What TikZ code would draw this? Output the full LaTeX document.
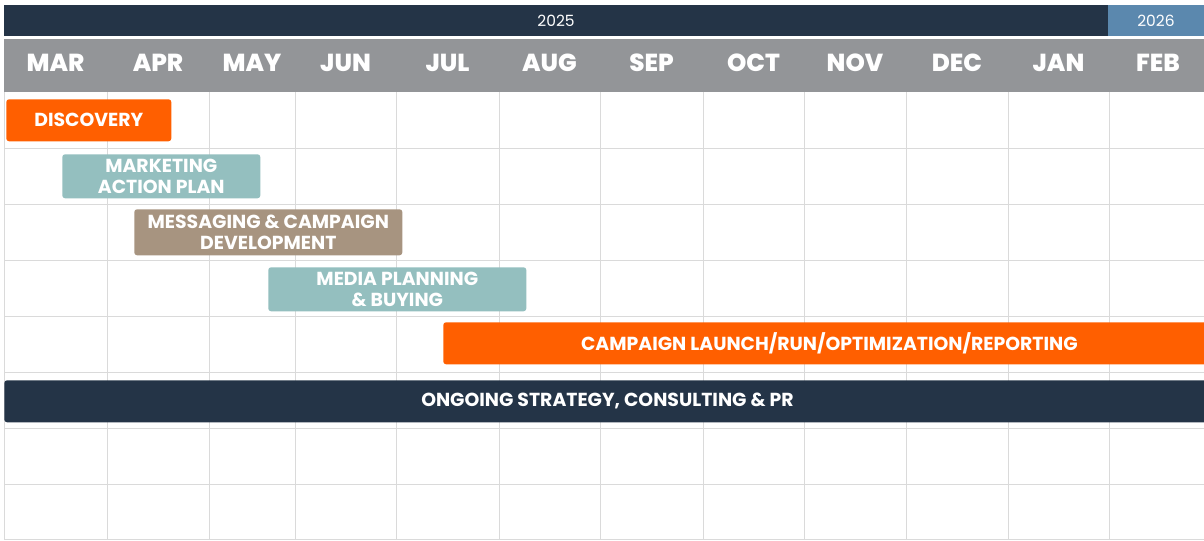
\documentclass[tikz,border=0pt]{standalone}
\usepackage{fontspec}
\setmainfont{Poppins}
\newfontfamily\moisfont{Poppins ExtraBold}
\usetikzlibrary{positioning}
\definecolor{marine}{RGB}{36,52,71}
\definecolor{annee}{RGB}{91,136,174}
\definecolor{entete}{RGB}{147,149,152}
\definecolor{orangevif}{RGB}{255,95,0}
\definecolor{sarcelle}{RGB}{148,191,191}
\definecolor{taupe}{RGB}{167,148,128}
\definecolor{grille}{RGB}{218,218,218}

\begin{document}
\begin{tikzpicture}[x=0.025cm, y=-0.025cm,
    barre/.style={fill=#1, rounded corners=2pt, anchor=north west, inner sep=0pt,
        text=white, align=center, font=\bfseries\fontsize{13.4}{15}\selectfont},
    mois/.style={text=white, font=\moisfont\fontsize{17.5}{20}\selectfont}]
    \useasboundingbox (0,0) rectangle (1204,540);
    \clip (0,0) rectangle (1204,540);

    % Grille
    \foreach \y in {148,204,260,316,372,428,484,539}
        \draw[grille] (4,\y) -- (1210,\y);
    \foreach \x in {4,107,209,295,396,499,600,703,804,906,1008,1109}
        \draw[grille] (\x,92) -- (\x,540);

    % Années
    \fill[marine] (4,5) rectangle (1108,36);
    \fill[annee] (1108,5) rectangle (1210,36);
    \node[text=white, font=\fontsize{11}{13}\selectfont] (an1) at (556,20.5) {2025};
    \node[text=white, font=\fontsize{11}{13}\selectfont] (an2) at (1156,20.5) {2026};

    % Mois
    \fill[entete] (4,39) rectangle (1210,92);
    \foreach \x/\m in {55.5/MAR,158/APR,252/MAY,345.5/JUN,447.5/JUL,549.5/AUG,
        651.5/SEP,753.5/OCT,855/NOV,957/DEC,1058.5/JAN,1158/FEB}
        \node[mois] (m-\m) at (\x,63) {\m};

    % Étapes
    \node[barre=orangevif, minimum width=4.125cm, minimum height=1.05cm] (decouverte) at (6,99) {DISCOVERY};
    \node[barre=sarcelle, minimum width=4.95cm, minimum height=1.1cm] (plan) at (62,154) {MARKETING\\ACTION PLAN};
    \node[barre=taupe, minimum width=6.7cm, minimum height=1.15cm] (message) at (134,209) {MESSAGING \& CAMPAIGN\\DEVELOPMENT};
    \node[barre=sarcelle, minimum width=6.45cm, minimum height=1.1cm] (media) at (268,267) {MEDIA PLANNING\\\& BUYING};
    \node[barre=orangevif, minimum width=19.3cm, minimum height=1.05cm] (campagne) at (443,322) {CAMPAIGN LAUNCH/RUN/OPTIMIZATION/REPORTING};
    \node[barre=marine, minimum width=30.15cm, minimum height=1.05cm] (continu) at (4,380) {ONGOING STRATEGY, CONSULTING \& PR};
\end{tikzpicture}
\end{document}
